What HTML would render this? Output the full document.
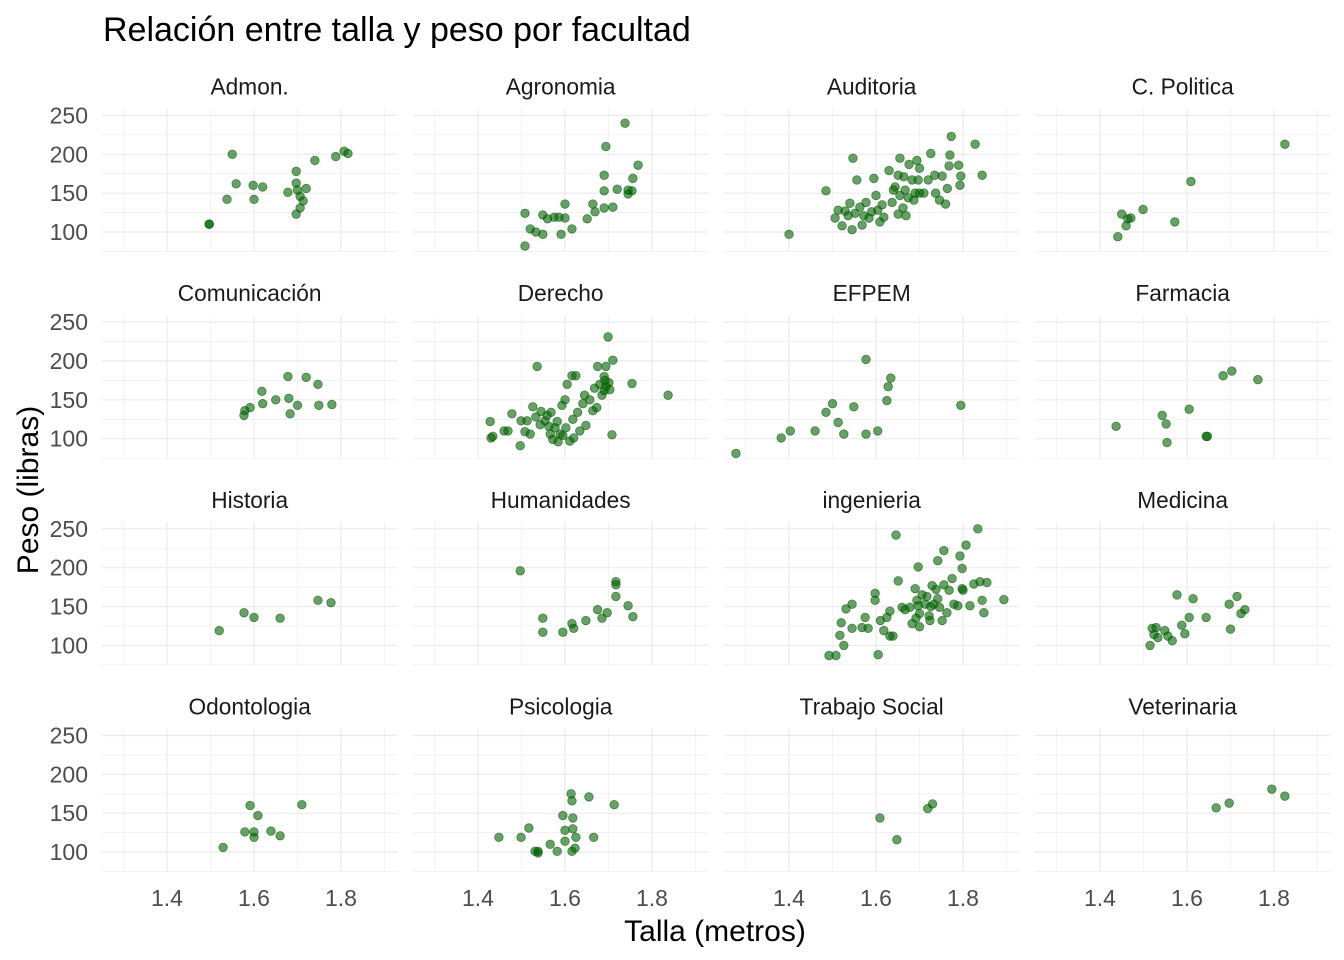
<!DOCTYPE html>
<html><head><meta charset="utf-8">
<style>
html,body{margin:0;padding:0;background:#fff;}
svg{display:block;font-family:"Liberation Sans",sans-serif;}
</style></head>
<body>
<svg id="chart" width="1344" height="960" viewBox="0 0 1344 960"></svg>
<script>
const facetNames=["Admon.","Agronomia","Auditoria","C. Politica","Comunicación","Derecho","EFPEM","Farmacia","Historia","Humanidades","ingenieria","Medicina","Odontologia","Psicologia","Trabajo Social","Veterinaria"];
const xTicks=[1.4,1.6,1.8];
const xTickLabels=["1.4","1.6","1.8"];
const xMinor=[1.3,1.5,1.7,1.9];
const yTicks=[100,150,200,250];
const yTickLabels=["100","150","200","250"];
const yMinor=[75,125,175,225];
const talla=[
[1.497,1.55,1.559,1.538,1.598,1.62,1.6,1.678,1.697,1.697,1.7,1.706,1.72,1.713,1.706,1.697,1.74,1.788,1.807,1.816,1.497],
[1.508,1.52,1.508,1.533,1.549,1.549,1.56,1.575,1.586,1.591,1.6,1.6,1.616,1.651,1.664,1.669,1.69,1.69,1.69,1.694,1.71,1.72,1.738,1.745,1.754,1.756,1.768,1.745],
[1.4,1.485,1.547,1.506,1.513,1.522,1.529,1.536,1.54,1.545,1.552,1.556,1.563,1.568,1.572,1.577,1.584,1.59,1.595,1.6,1.604,1.609,1.614,1.618,1.63,1.637,1.644,1.651,1.651,1.655,1.655,1.662,1.667,1.669,1.674,1.676,1.683,1.69,1.694,1.697,1.7,1.7,1.71,1.72,1.726,1.735,1.737,1.746,1.752,1.76,1.768,1.77,1.773,1.793,1.795,1.828,1.844,1.79,1.764,1.64,1.664,1.687],
[1.441,1.45,1.46,1.464,1.471,1.499,1.572,1.609,1.825],
[1.577,1.579,1.591,1.618,1.62,1.65,1.678,1.68,1.683,1.7,1.72,1.747,1.749,1.779],
[1.428,1.43,1.434,1.46,1.469,1.478,1.497,1.499,1.508,1.513,1.52,1.526,1.533,1.536,1.543,1.545,1.554,1.559,1.563,1.566,1.568,1.572,1.577,1.582,1.584,1.589,1.593,1.595,1.6,1.602,1.605,1.611,1.616,1.618,1.62,1.625,1.629,1.634,1.641,1.645,1.648,1.657,1.664,1.668,1.673,1.675,1.68,1.685,1.69,1.69,1.694,1.694,1.699,1.701,1.703,1.708,1.71,1.754,1.837,1.692],
[1.278,1.382,1.403,1.46,1.485,1.5,1.513,1.526,1.549,1.577,1.577,1.604,1.625,1.628,1.634,1.795],
[1.437,1.543,1.552,1.554,1.605,1.644,1.647,1.683,1.703,1.763],
[1.52,1.577,1.6,1.66,1.747,1.777],
[1.497,1.549,1.549,1.595,1.616,1.62,1.648,1.675,1.685,1.697,1.717,1.717,1.717,1.745,1.756],
[1.492,1.508,1.526,1.517,1.52,1.531,1.545,1.545,1.568,1.575,1.582,1.598,1.598,1.605,1.61,1.618,1.625,1.632,1.632,1.639,1.646,1.651,1.66,1.667,1.678,1.683,1.69,1.692,1.694,1.697,1.697,1.7,1.7,1.706,1.713,1.717,1.722,1.724,1.726,1.733,1.738,1.742,1.742,1.746,1.752,1.756,1.756,1.763,1.768,1.775,1.779,1.788,1.793,1.798,1.798,1.807,1.816,1.825,1.834,1.839,1.844,1.848,1.855,1.894,1.8,1.729],
[1.515,1.52,1.524,1.529,1.533,1.549,1.556,1.566,1.577,1.588,1.595,1.605,1.614,1.644,1.697,1.7,1.715,1.724,1.733],
[1.529,1.579,1.591,1.6,1.6,1.609,1.639,1.66,1.71],
[1.448,1.499,1.517,1.531,1.538,1.566,1.595,1.6,1.6,1.614,1.616,1.616,1.618,1.618,1.623,1.625,1.655,1.666,1.713,1.582,1.538],
[1.609,1.648,1.719,1.73],
[1.667,1.697,1.795,1.825]
];
const peso=[
[110,200,162,142,160,158,142,151,178,163,154,146,156,140,131,123,192,197,204,201,110],
[124,104,82,100,122,97,117,119,119,97,118,136,104,117,136,126,131,153,173,210,132,155,240,149,153,169,186,154],
[97,153,195,118,128,108,127,121,137,103,124,167,132,109,121,138,118,126,169,147,128,113,135,119,179,138,158,173,123,195,147,131,154,121,144,187,167,150,192,167,182,150,150,167,201,173,150,141,172,136,185,199,223,160,172,213,173,186,156,154,171,141],
[94,123,108,117,118,129,113,165,213],
[130,136,140,161,145,150,180,152,132,143,179,170,143,144],
[122,101,103,110,110,132,91,123,109,123,106,141,128,193,118,135,123,130,116,106,134,99,114,122,96,106,143,104,150,114,170,97,181,125,101,181,134,110,145,156,117,150,136,165,140,193,170,156,180,162,167,193,231,172,163,105,201,171,156,175],
[81,101,110,110,134,145,121,106,141,202,106,110,149,167,178,143],
[116,130,119,95,138,103,103,181,187,176],
[119,142,136,135,158,155],
[196,135,117,117,128,122,132,146,135,142,182,178,163,151,137],
[87,87,100,113,129,147,122,153,123,136,122,167,158,88,132,119,136,112,144,112,242,183,149,146,149,128,173,135,158,201,151,124,141,165,153,163,138,132,150,153,172,160,209,149,132,222,178,142,171,186,153,151,215,199,173,229,151,179,250,182,158,142,181,159,171,177],
[100,122,114,123,110,119,112,106,165,126,115,136,160,136,153,121,163,141,146],
[106,126,160,119,126,147,127,121,161],
[119,119,131,101,99,110,147,128,114,175,166,101,144,130,105,119,171,119,161,101,101],
[144,116,156,162],
[157,163,181,172]
];

const NS="http://www.w3.org/2000/svg";
const svg=document.getElementById("chart");
function mk(tag,attrs,parent){const e=document.createElementNS(NS,tag);for(const k in attrs)e.setAttribute(k,attrs[k]);(parent||svg).appendChild(e);return e;}

const pxPerX=435, x0px=167, xBase=1.4, colStep=311;
const pxPerY=0.7773, yBase=100, y0px=232, rowStep=206.7;
const xMin=1.25, xMax=1.93, yMin=74, yMax=259;
function sx(v,c){return x0px+c*colStep+(v-xBase)*pxPerX;}
function sy(v,r){return y0px+r*rowStep-(v-yBase)*pxPerY;}

let t=mk("text",{x:103,y:41,"font-size":"34","fill":"#000"});
t.textContent="Relación entre talla y peso por facultad";



for(let i=0;i<16;i++){
  const r=Math.floor(i/4), c=i%4;
  const g=mk("g",{});
  
  
  const L=sx(xMin,c), R=sx(xMax,c), T=sy(yMax,r), B=sy(yMin,r);
  yMinor.forEach(v=>{const l=mk("line",{x1:L,x2:R,y1:sy(v,r),y2:sy(v,r),stroke:"#ebebeb","stroke-width":0.6},g);
    });
  xMinor.forEach(v=>{const l=mk("line",{x1:sx(v,c),x2:sx(v,c),y1:T,y2:B,stroke:"#ebebeb","stroke-width":0.6},g);
    });
  yTicks.forEach(v=>{const l=mk("line",{x1:L,x2:R,y1:sy(v,r),y2:sy(v,r),stroke:"#ebebeb","stroke-width":1.2},g);
    });
  xTicks.forEach(v=>{const l=mk("line",{x1:sx(v,c),x2:sx(v,c),y1:T,y2:B,stroke:"#ebebeb","stroke-width":1.2},g);
    });
  const s=mk("text",{x:(L+R)/2,y:sy(250,r)-21,"font-size":"22.7","text-anchor":"middle",fill:"#1a1a1a"},g);
  s.textContent=facetNames[i];
  
  
  if(c===0){yTicks.forEach((v,k)=>{const tl=mk("text",{x:88,y:sy(v,r)+8,"font-size":"23","text-anchor":"end",fill:"#4d4d4d"},g);
    tl.textContent=yTickLabels[k];
    
    });}
  if(r===3){xTicks.forEach((v,k)=>{const tl=mk("text",{x:sx(v,c),y:906,"font-size":"23","text-anchor":"middle",fill:"#4d4d4d"},g);
    tl.textContent=xTickLabels[k];
    
    });}
  talla[i].forEach((tv,k)=>{
    const p=mk("circle",{cx:sx(tv,c),cy:sy(peso[i][k],r),r:4.3,fill:"rgba(0,100,0,0.6)",stroke:"rgba(0,80,0,0.6)","stroke-width":0.8},g);
    
    
  });
}
let xt=mk("text",{x:715,y:941,"font-size":"30","text-anchor":"middle",fill:"#000"});
xt.textContent="Talla (metros)";


let yt=mk("text",{x:0,y:0,"font-size":"30","text-anchor":"middle",fill:"#000",transform:"translate(38,490) rotate(-90)"});
yt.textContent="Peso (libras)";


</script>
</body></html>
